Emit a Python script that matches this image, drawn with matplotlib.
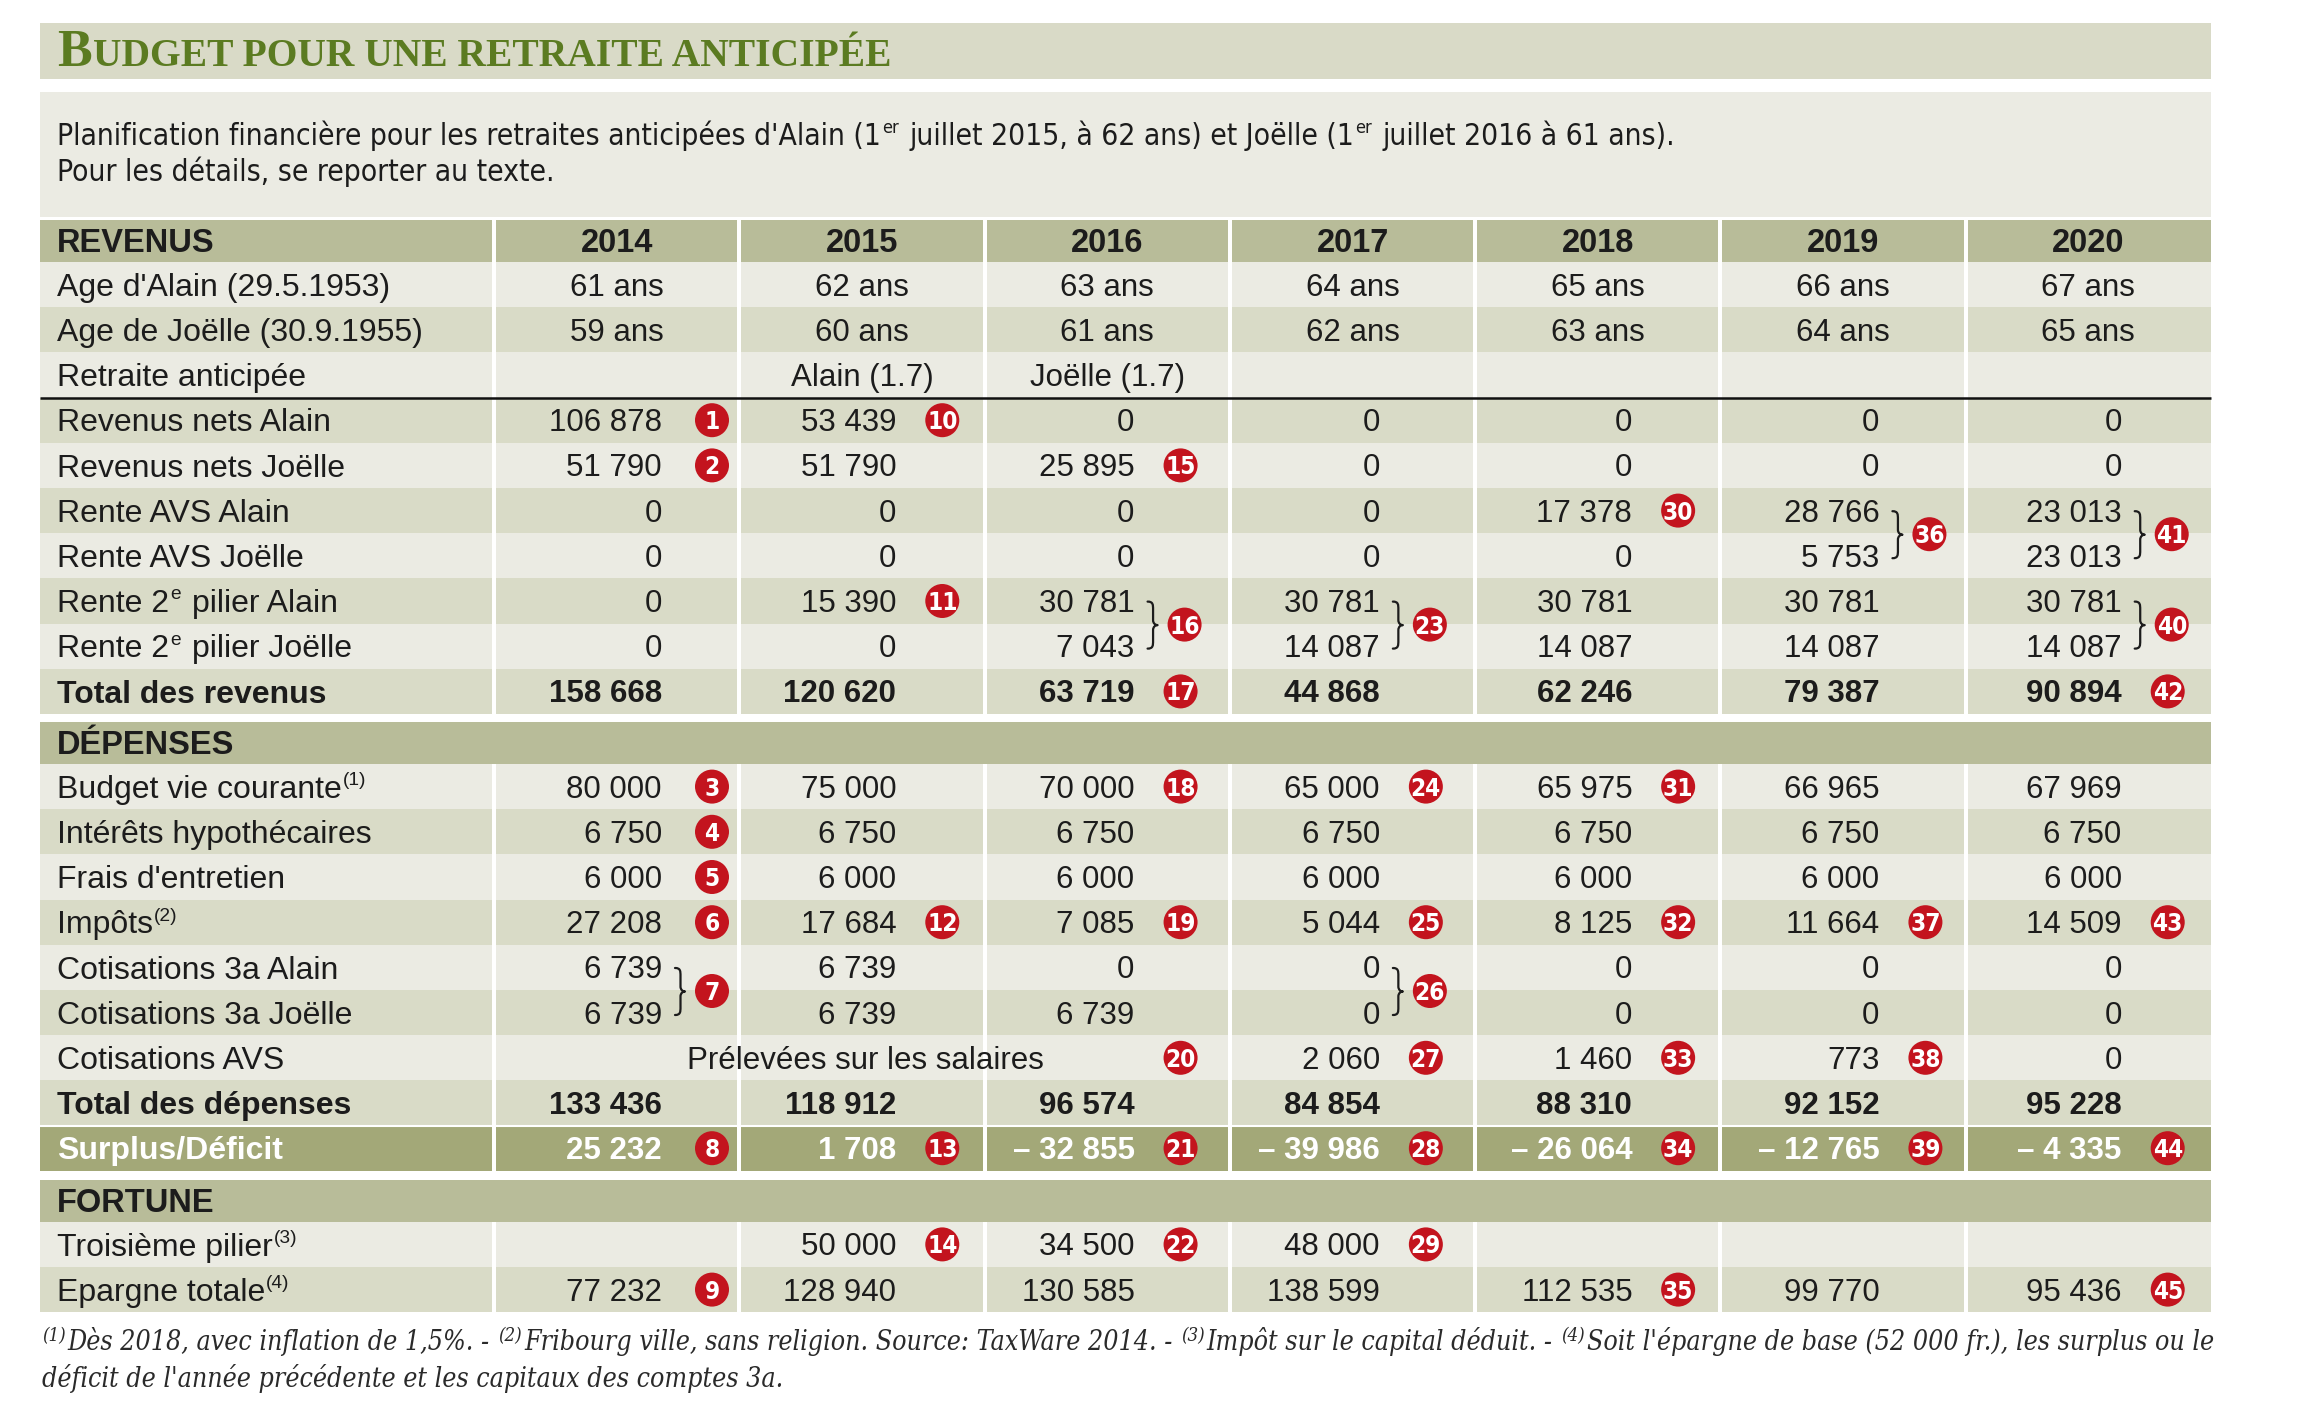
import re
import matplotlib
matplotlib.use("Agg")
import matplotlib.pyplot as plt
from matplotlib import font_manager as fm
from matplotlib.patches import Rectangle, Circle, PathPatch
from matplotlib.path import Path

# ---------------------------------------------------------------- data
years = [2014, 2015, 2016, 2017, 2018, 2019, 2020]
age_alain = [61, 62, 63, 64, 65, 66, 67]
age_joelle = [59, 60, 61, 62, 63, 64, 65]
retraite_anticipee = ["", "Alain (1.7)", "Joëlle (1.7)", "", "", "", ""]
revenus_nets_alain = [106878, 53439, 0, 0, 0, 0, 0]
revenus_nets_joelle = [51790, 51790, 25895, 0, 0, 0, 0]
rente_avs_alain = [0, 0, 0, 0, 17378, 28766, 23013]
rente_avs_joelle = [0, 0, 0, 0, 0, 5753, 23013]
rente_2p_alain = [0, 15390, 30781, 30781, 30781, 30781, 30781]
rente_2p_joelle = [0, 0, 7043, 14087, 14087, 14087, 14087]
total_revenus = [158668, 120620, 63719, 44868, 62246, 79387, 90894]
budget_vie = [80000, 75000, 70000, 65000, 65975, 66965, 67969]
interets_hypo = [6750, 6750, 6750, 6750, 6750, 6750, 6750]
frais_entretien = [6000, 6000, 6000, 6000, 6000, 6000, 6000]
impots = [27208, 17684, 7085, 5044, 8125, 11664, 14509]
cot_3a_alain = [6739, 6739, 0, 0, 0, 0, 0]
cot_3a_joelle = [6739, 6739, 6739, 0, 0, 0, 0]
cot_avs = [None, None, None, 2060, 1460, 773, 0]
cot_avs_note = "Prélevées sur les salaires"
total_depenses = [133436, 118912, 96574, 84854, 88310, 92152, 95228]
surplus_deficit = [25232, 1708, -32855, -39986, -26064, -12765, -4335]
troisieme_pilier = [None, 50000, 34500, 48000, None, None, None]
epargne_totale = [77232, 128940, 130585, 138599, 112535, 99770, 95436]

# numbered notes (red badges); None = no badge
badge_rev_alain = [1, 10, None, None, None, None, None]
badge_rev_joelle = [2, None, 15, None, None, None, None]
badge_avs_alain = [None, None, None, None, 30, None, None]
badge_2p_alain = [None, 11, None, None, None, None, None]
badge_total_rev = [None, None, 17, None, None, None, 42]
badge_budget = [3, None, 18, 24, 31, None, None]
badge_interets = [4, None, None, None, None, None, None]
badge_frais = [5, None, None, None, None, None, None]
badge_impots = [6, 12, 19, 25, 32, 37, 43]
badge_cot_avs = [None, None, 20, 27, 33, 38, None]
badge_surplus = [8, 13, 21, 28, 34, 39, 44]
badge_troisieme = [None, 14, 22, 29, None, None, None]
badge_epargne = [9, None, None, None, 35, None, 45]
# badges shared by two rows (drawn with a brace)
brace_avs = [None, None, None, None, None, 36, 41]
brace_2p = [None, None, 16, 23, None, None, 40]
brace_3a = [7, None, None, 26, None, None, None]

title_text = "BUDGET POUR UNE RETRAITE ANTICIPÉE"
subtitle_1 = "Planification financière pour les retraites anticipées d'Alain (1^{er} juillet 2015, à 62 ans) et Joëlle (1^{er} juillet 2016 à 61 ans)."
subtitle_2 = "Pour les détails, se reporter au texte."
foot_1 = ("^{(1)}Dès 2018, avec inflation de 1,5%. - ^{(2)}Fribourg ville, sans religion. Source: TaxWare 2014. - "
          "^{(3)}Impôt sur le capital déduit. - ^{(4)}Soit l'épargne de base (52 000 fr.), les surplus ou le")
foot_2 = "déficit de l'année précédente et les capitaux des comptes 3a."

# ---------------------------------------------------------------- fonts
def pick(fams):
    for f in fams:
        try:
            fm.findfont(fm.FontProperties(family=f), fallback_to_default=False)
            return f
        except Exception:
            pass
    return "DejaVu Sans"


def condensed_props(fams, weight="normal", style="normal"):
    """Return text kwargs for a condensed face if one is installed."""
    for fam, narrow in fams:
        try:
            if narrow:
                fm.findfont(fm.FontProperties(family=fam, weight=weight, style=style),
                            fallback_to_default=False)
                return dict(family=fam)
            f = fm.findfont(fm.FontProperties(family=fam, stretch="condensed", weight=weight,
                                              style=style), fallback_to_default=False)
            if "ondensed" in f:
                return dict(family=fam, fontstretch="condensed")
        except Exception:
            pass
    return None


SANS = pick(["Liberation Sans", "Arial", "DejaVu Sans"])
SERIF = pick(["Liberation Serif", "DejaVu Serif"])
COND = condensed_props([("Liberation Sans Narrow", True), ("DejaVu Sans", False)])
COND_B = condensed_props([("Liberation Sans Narrow", True), ("DejaVu Sans", False)], "bold")
SERIF_CI = condensed_props([("DejaVu Serif", False)], "normal", "italic")

# ---------------------------------------------------------------- style
TITLE_BG = "#d9dac7"
SUB_BG = "#ebebe3"
HEAD_BG = "#b8bc99"
LIGHT = "#ebebe3"
DARK = "#d9dbc7"
SURP_BG = "#a3a878"
RED = "#c3141e"
TXT = "#1c1c1c"
TITLE_C = "#5b7b21"

W, H = 2300, 1414
fig = plt.figure(figsize=(W / 100, H / 100), dpi=100)
ax = fig.add_axes([0, 0, 1, 1])
ax.set_xlim(0, W)
ax.set_ylim(H, 0)
ax.axis("off")
fig.patch.set_facecolor("white")
R = fig.canvas.get_renderer()

LX0, LX1, RX = 40, 494, 2211
PITCH = (RX - LX1) / 7
col_left = [LX1 + i * PITCH for i in range(7)]
col_right = [col_left[i] + PITCH for i in range(7)]
VR_OFF = [168, 157, 150, 150, 157, 159, 156]
val_right = [col_left[i] + VR_OFF[i] for i in range(7)]
LABEL_X = 57
RH = 45.2
HH = 42

LABEL_FS = 23
VAL_FS = 22.5
HEAD_FS = 23.5
BADGE_FS = 17.5 if COND_B else 15.5
BADGE_KW = COND_B if COND_B else dict(family=SANS)
SUB_KW = COND if COND else dict(family=SANS)
FOOT_KW = SERIF_CI if SERIF_CI else dict(family=SERIF)


def em(fs):
    return fs * 100 / 72


def base(yc, fs):
    return yc + 0.35 * em(fs)


def width_of(s, **kw):
    t = ax.text(0, 0, s, **kw)
    w = t.get_window_extent(R).width
    t.remove()
    return w


def rich(x, yb, s, fs, weight="normal", style="normal", color=TXT,
         sup_scale=0.6, sup_raise=0.40, zorder=5, **fkw):
    """Draw text with ^{...} superscripts, left to right. Returns (texts, width)."""
    if "family" not in fkw:
        fkw["family"] = SANS
    kw = dict(fontweight=weight, fontstyle=style, **fkw)
    sw = width_of("n n", fontsize=fs, **kw) - width_of("nn", fontsize=fs, **kw)
    tokens = [t for t in re.split(r"(\^\{[^}]*\})", s) if t]
    texts = []
    cx = x
    for tok in tokens:
        sup = tok.startswith("^{")
        body = tok[2:-1] if sup else tok
        lead = len(body) - len(body.lstrip(" "))
        trail = len(body) - len(body.rstrip(" "))
        body = body.strip(" ")
        cx += lead * sw
        if body:
            size = fs * sup_scale if sup else fs
            y = yb - (sup_raise * em(fs) if sup else 0)
            t = ax.text(cx, y, body, fontsize=size, color=color, ha="left",
                        va="baseline", zorder=zorder, **kw)
            w = t.get_window_extent(R).width
            texts.append(t)
            cx += w + (2 if sup else 1)
        cx += trail * sw
    return texts, cx - x


def rich_fit(x, yb, s, target, fs0, **kw):
    texts, w = rich(x, yb, s, fs0, **kw)
    for t in texts:
        t.remove()
    fs = fs0 * target / w
    rich(x, yb, s, fs, **kw)
    return fs


def fmt(v):
    if v is None:
        return ""
    s = f"{abs(v):,}".replace(",", " ")
    return ("– " + s) if v < 0 else s


def cells(y0, h, color, split=True):
    if not split:
        ax.add_patch(Rectangle((LX0, y0), RX - LX0, h, fc=color, ec="none", zorder=1))
        return
    ax.add_patch(Rectangle((LX0, y0), LX1 - 2 - LX0, h, fc=color, ec="none", zorder=1))
    for i in range(7):
        x0 = col_left[i] + 2
        x1 = RX if i == 6 else col_right[i] - 2
        ax.add_patch(Rectangle((x0, y0), x1 - x0, h, fc=color, ec="none", zorder=1))


def badge(x, yc, n):
    ax.add_patch(Circle((x, yc), 17, fc=RED, ec="none", zorder=6))
    ax.text(x, base(yc, BADGE_FS) + 0.5, str(n), fontsize=BADGE_FS, fontweight="bold",
            color="white", ha="center", va="baseline", zorder=7, **BADGE_KW)


def brace(x, ytop, ybot, w=10):
    ym = (ytop + ybot) / 2
    xs = x + w * 0.55
    verts = [(x, ytop), (xs, ytop), (xs, ytop + 3), (xs, ytop + 8),
             (xs, ym - 5),
             (xs, ym - 1.5), (x + w * 0.8, ym), (x + w, ym),
             (x + w * 0.8, ym), (xs, ym + 1.5), (xs, ym + 5),
             (xs, ybot - 8),
             (xs, ybot - 3), (xs, ybot), (x, ybot)]
    codes = [Path.MOVETO, Path.CURVE4, Path.CURVE4, Path.CURVE4,
             Path.LINETO,
             Path.CURVE4, Path.CURVE4, Path.CURVE4,
             Path.CURVE4, Path.CURVE4, Path.CURVE4,
             Path.LINETO,
             Path.CURVE4, Path.CURVE4, Path.CURVE4]
    ax.add_patch(PathPatch(Path(verts, codes), fc="none", ec=TXT, lw=1.6, zorder=5,
                           capstyle="round", joinstyle="round"))


# ---------------------------------------------------------------- title & subtitle
ax.add_patch(Rectangle((LX0, 23), RX - LX0, 56, fc=TITLE_BG, ec="none", zorder=1))
ratio = 25.0 / 33.0
wb = width_of(title_text[0], fontsize=33, family=SERIF, fontweight="bold")
wr = width_of(title_text[1:], fontsize=33 * ratio, family=SERIF, fontweight="bold")
k = 834.0 / (wb + wr + 1)
big_fs, small_fs = 33 * k, 33 * ratio * k
tb = ax.text(LABEL_X, 66, title_text[0], fontsize=big_fs, family=SERIF, fontweight="bold",
             color=TITLE_C, ha="left", va="baseline", zorder=5)
wb = tb.get_window_extent(R).width
ax.text(LABEL_X + wb + 1, 66, title_text[1:], fontsize=small_fs, family=SERIF,
        fontweight="bold", color=TITLE_C, ha="left", va="baseline", zorder=5)

ax.add_patch(Rectangle((LX0, 92), RX - LX0, 125, fc=SUB_BG, ec="none", zorder=1))
sub_fs = rich_fit(LABEL_X, 145, subtitle_1, 1627, 20, **SUB_KW)
rich(LABEL_X, 181, subtitle_2, sub_fs, **SUB_KW)

# ---------------------------------------------------------------- table
y = 220


def col_center(i):
    return (col_left[i] + (RX if i == 6 else col_right[i])) / 2


# REVENUS header
cells(y, HH, HEAD_BG, split=True)
ax.text(LABEL_X, base(y + HH / 2, HEAD_FS), "REVENUS", fontsize=HEAD_FS, family=SANS,
        fontweight="bold", color=TXT, ha="left", va="baseline", zorder=5)
for i, yr in enumerate(years):
    ax.text(col_center(i), base(y + HH / 2, HEAD_FS), str(yr), fontsize=HEAD_FS,
            family=SANS, fontweight="bold", color=TXT, ha="center", va="baseline", zorder=5)
y += HH


def row(y0, idx, label, values=None, texts=None, badges=None, bold=False, bg=None,
        color=TXT):
    color_bg = bg if bg is not None else (LIGHT if idx % 2 == 0 else DARK)
    cells(y0, RH, color_bg)
    yc = y0 + RH / 2
    rich(LABEL_X, base(yc, LABEL_FS), label, LABEL_FS, weight="bold" if bold else "normal",
         color=color)
    if texts is not None:
        for i, s in enumerate(texts):
            if s:
                ax.text(col_center(i), base(yc, VAL_FS), s, fontsize=VAL_FS, family=SANS,
                        color=color, ha="center", va="baseline", zorder=5)
    if values is not None:
        for i, v in enumerate(values):
            if v is not None:
                ax.text(val_right[i], base(yc, VAL_FS), fmt(v), fontsize=VAL_FS, family=SANS,
                        fontweight="bold" if bold else "normal", color=color,
                        ha="right", va="baseline", zorder=5)
    if badges is not None:
        for i, n in enumerate(badges):
            if n is not None:
                badge(val_right[i] + (50 if i == 0 else 46), yc, n)
    return y0 + RH


def pair_braces(y_boundary, nums):
    for i, n in enumerate(nums):
        if n is not None:
            brace(val_right[i] + 13, y_boundary - 22, y_boundary + 25)
            badge(val_right[i] + 50, y_boundary + 1, n)


# REVENUS rows
y = row(y, 0, "Age d'Alain (29.5.1953)", texts=[f"{a} ans" for a in age_alain])
y = row(y, 1, "Age de Joëlle (30.9.1955)", texts=[f"{a} ans" for a in age_joelle])
y = row(y, 2, "Retraite anticipée", texts=retraite_anticipee)
ax.hlines(y, LX0, RX, color="#111111", lw=1.8, zorder=4)
y = row(y, 3, "Revenus nets Alain", values=revenus_nets_alain, badges=badge_rev_alain)
y = row(y, 4, "Revenus nets Joëlle", values=revenus_nets_joelle, badges=badge_rev_joelle)
y = row(y, 5, "Rente AVS Alain", values=rente_avs_alain, badges=badge_avs_alain)
pair_braces(y, brace_avs)
y = row(y, 6, "Rente AVS Joëlle", values=rente_avs_joelle)
y = row(y, 7, "Rente 2^{e} pilier Alain", values=rente_2p_alain, badges=badge_2p_alain)
pair_braces(y, brace_2p)
y = row(y, 8, "Rente 2^{e} pilier Joëlle", values=rente_2p_joelle)
y = row(y, 9, "Total des revenus", values=total_revenus, badges=badge_total_rev, bold=True)

# DÉPENSES
y += 8
cells(y, HH, HEAD_BG, split=False)
ax.text(LABEL_X, base(y + HH / 2, HEAD_FS), "DÉPENSES", fontsize=HEAD_FS, family=SANS,
        fontweight="bold", color=TXT, ha="left", va="baseline", zorder=5)
y += HH
y = row(y, 0, "Budget vie courante^{(1)}", values=budget_vie, badges=badge_budget)
y = row(y, 1, "Intérêts hypothécaires", values=interets_hypo, badges=badge_interets)
y = row(y, 2, "Frais d'entretien", values=frais_entretien, badges=badge_frais)
y = row(y, 3, "Impôts^{(2)}", values=impots, badges=badge_impots)
y = row(y, 4, "Cotisations 3a Alain", values=cot_3a_alain)
pair_braces(y, brace_3a)
y = row(y, 5, "Cotisations 3a Joëlle", values=cot_3a_joelle)
y_avs = y
y = row(y, 6, "Cotisations AVS", values=cot_avs, badges=badge_cot_avs)
ax.text(col_center(1) + 4, base(y_avs + RH / 2, VAL_FS), cot_avs_note, fontsize=VAL_FS,
        family=SANS, color=TXT, ha="center", va="baseline", zorder=5)
y = row(y, 7, "Total des dépenses", values=total_depenses, bold=True)
ax.hlines(y, LX0, RX, color="white", lw=1.5, zorder=2)
y = row(y, 8, "Surplus/Déficit", values=surplus_deficit, badges=badge_surplus, bold=True,
        bg=SURP_BG, color="white")

# FORTUNE
y += 9
cells(y, HH, HEAD_BG, split=False)
ax.text(LABEL_X, base(y + HH / 2, HEAD_FS), "FORTUNE", fontsize=HEAD_FS, family=SANS,
        fontweight="bold", color=TXT, ha="left", va="baseline", zorder=5)
y += HH
y = row(y, 0, "Troisième pilier^{(3)}", values=troisieme_pilier, badges=badge_troisieme)
y = row(y, 1, "Epargne totale^{(4)}", values=epargne_totale, badges=badge_epargne)

# ---------------------------------------------------------------- footnotes
foot_fs = rich_fit(LX0 + 2, y + 38, foot_1, RX - LX0 - 2, 20, style="italic",
                   color="#2a2a2a", sup_scale=0.7, sup_raise=0.35, **FOOT_KW)
rich(LX0 + 2, y + 75, foot_2, foot_fs, style="italic", color="#2a2a2a", **FOOT_KW)

fig.savefig("out.png", dpi=100, facecolor="white")
